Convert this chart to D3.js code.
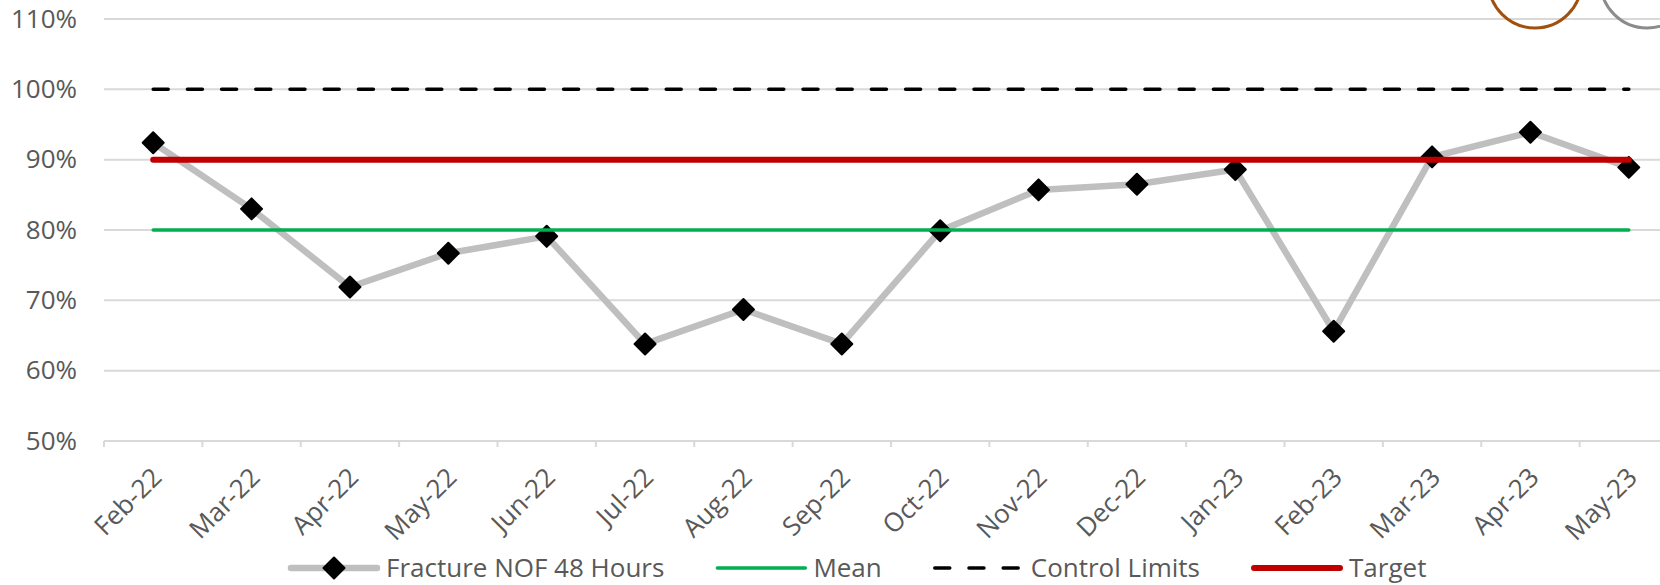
<!DOCTYPE html>
<html>
<head>
<meta charset="utf-8">
<script src="https://cdn.jsdelivr.net/npm/d3@7/dist/d3.min.js"></script>
<style>
  html, body { margin: 0; padding: 0; background: #ffffff; }
  svg { display: block; font-family: "Open Sans", sans-serif; }
</style>
</head>
<body>
<svg id="chart" width="1660" height="585"></svg>
<script>
// Monthly % of fractured neck of femur patients reaching theatre within 48 hours
const categories = ["Feb-22", "Mar-22", "Apr-22", "May-22", "Jun-22", "Jul-22", "Aug-22", "Sep-22",
                    "Oct-22", "Nov-22", "Dec-22", "Jan-23", "Feb-23", "Mar-23", "Apr-23", "May-23"];
const nofValues = [92.4, 83.0, 71.9, 76.7, 79.1, 63.8, 68.7, 63.8, 79.9, 85.7, 86.5, 88.6, 65.6, 90.4, 93.9, 88.9];
const meanValues = [80, 80, 80, 80, 80, 80, 80, 80, 80, 80, 80, 80, 80, 80, 80, 80];
const controlLimitValues = [100, 100, 100, 100, 100, 100, 100, 100, 100, 100, 100, 100, 100, 100, 100, 100];
const targetValues = [90, 90, 90, 90, 90, 90, 90, 90, 90, 90, 90, 90, 90, 90, 90, 90];
const yTicks = [50, 60, 70, 80, 90, 100, 110];

const legendItems = [
  { label: "Fracture NOF 48 Hours", kind: "series" },
  { label: "Mean", kind: "mean" },
  { label: "Control Limits", kind: "limits" },
  { label: "Target", kind: "target" }
];

const svg = d3.select("#chart");
const textColor = "#595959";
const gridColor = "#d9d9d9";
const fontSize = 26;

const x = d3.scaleBand().domain(categories).range([104, 1678]).padding(0);
const y = d3.scaleLinear().domain([50, 110]).range([441, 19]);
const cx = c => x(c) + x.bandwidth() / 2;

// horizontal gridlines
svg.append("g").selectAll("line").data(yTicks.filter(t => t !== 50)).join("line")
  .attr("x1", 104).attr("x2", 1678)
  .attr("y1", d => y(d)).attr("y2", d => y(d))
  .attr("stroke", gridColor).attr("stroke-width", 2);

// y axis labels
const yAxis = svg.append("g").attr("transform", "translate(104,0)")
  .call(d3.axisLeft(y).tickValues(yTicks).tickFormat(d => d + "%").tickSize(0).tickPadding(27));
yAxis.select(".domain").remove();
yAxis.selectAll("text").attr("fill", textColor).attr("font-size", fontSize)
  .attr("font-family", "Open Sans, sans-serif");

// x axis: baseline, boundary ticks, rotated labels
const xAxis = svg.append("g").attr("transform", `translate(0,${y(50)})`)
  .call(d3.axisBottom(x).tickSize(0).tickSizeOuter(0));
xAxis.select(".domain").attr("stroke", gridColor).attr("stroke-width", 2)
  .attr("d", `M${x.range()[0]},0H${x.range()[1]}`);
xAxis.selectAll(".tick line").remove();
xAxis.selectAll(".tick text")
  .attr("fill", textColor).attr("font-size", fontSize)
  .attr("font-family", "Open Sans, sans-serif")
  .attr("text-anchor", "end")
  .attr("dy", null).attr("y", null)
  .attr("transform", "translate(10,38) rotate(-45)");
const boundaries = categories.map(c => x(c)).concat([x.range()[1]]);
xAxis.append("g").selectAll("line").data(boundaries).join("line")
  .attr("x1", d => d).attr("x2", d => d).attr("y1", 0).attr("y2", 6)
  .attr("stroke", gridColor).attr("stroke-width", 2);

// series line with diamond markers
const line = d3.line().x((d, i) => cx(categories[i])).y(d => y(d));
svg.append("path").datum(nofValues).attr("d", line)
  .attr("fill", "none").attr("stroke", "#bfbfbf").attr("stroke-width", 6.5)
  .attr("stroke-linejoin", "round");

const diamond = s => `M0,${-s}L${s},0L0,${s}L${-s},0Z`;
svg.append("g").selectAll("path").data(nofValues).join("path")
  .attr("transform", (d, i) => `translate(${cx(categories[i])},${y(d)})`)
  .attr("d", diamond(10.5))
  .attr("fill", "#000").attr("stroke", "#000").attr("stroke-width", 2).attr("stroke-linejoin", "round");

// control limits, mean and target
svg.append("path").datum(controlLimitValues).attr("d", line)
  .attr("fill", "none").attr("stroke", "#000").attr("stroke-width", 3.5)
  .attr("stroke-dasharray", "15,19.2").attr("stroke-linecap", "round");
svg.append("path").datum(meanValues).attr("d", line)
  .attr("fill", "none").attr("stroke", "#00b050").attr("stroke-width", 3.5)
  .attr("stroke-linecap", "round");
svg.append("path").datum(targetValues).attr("d", line)
  .attr("fill", "none").attr("stroke", "#c00000").attr("stroke-width", 6)
  .attr("stroke-linecap", "round");

// status icons in the corner
svg.append("circle").attr("cx", 1535).attr("cy", -18.5).attr("r", 46.5)
  .attr("fill", "none").attr("stroke", "#a0500f").attr("stroke-width", 3);
svg.append("circle").attr("cx", 1647).attr("cy", -18.5).attr("r", 46.5)
  .attr("fill", "none").attr("stroke", "#8c8c8c").attr("stroke-width", 3);

// legend
const legend = svg.append("g").attr("transform", "translate(0,568)");
const symW = 92, symGap = 6, itemGap = 51;
let lx = 288;
legendItems.forEach(item => {
  const g = legend.append("g").attr("transform", `translate(${lx},0)`);
  if (item.kind === "series") {
    g.append("line").attr("x1", 3).attr("x2", symW - 3).attr("y1", 0).attr("y2", 0)
      .attr("stroke", "#bfbfbf").attr("stroke-width", 6.5).attr("stroke-linecap", "round");
    g.append("path").attr("transform", `translate(${symW / 2},0)`).attr("d", diamond(10.5))
      .attr("fill", "#000").attr("stroke", "#000").attr("stroke-width", 2).attr("stroke-linejoin", "round");
  } else if (item.kind === "mean") {
    g.append("line").attr("x1", 2).attr("x2", symW - 2).attr("y1", 0).attr("y2", 0)
      .attr("stroke", "#00b050").attr("stroke-width", 3.5).attr("stroke-linecap", "round");
  } else if (item.kind === "limits") {
    g.append("line").attr("x1", 2).attr("x2", symW - 2).attr("y1", 0).attr("y2", 0)
      .attr("stroke", "#000").attr("stroke-width", 3.5).attr("stroke-linecap", "round")
      .attr("stroke-dasharray", "15,19.2");
  } else {
    g.append("line").attr("x1", 3).attr("x2", symW - 3).attr("y1", 0).attr("y2", 0)
      .attr("stroke", "#c00000").attr("stroke-width", 6).attr("stroke-linecap", "round");
  }
  const t = g.append("text").attr("x", symW + symGap).attr("y", 0).attr("dy", "0.33em")
    .attr("fill", textColor).attr("font-size", fontSize).text(item.label);
  lx += symW + symGap + t.node().getComputedTextLength() + itemGap;
});
</script>
</body>
</html>
